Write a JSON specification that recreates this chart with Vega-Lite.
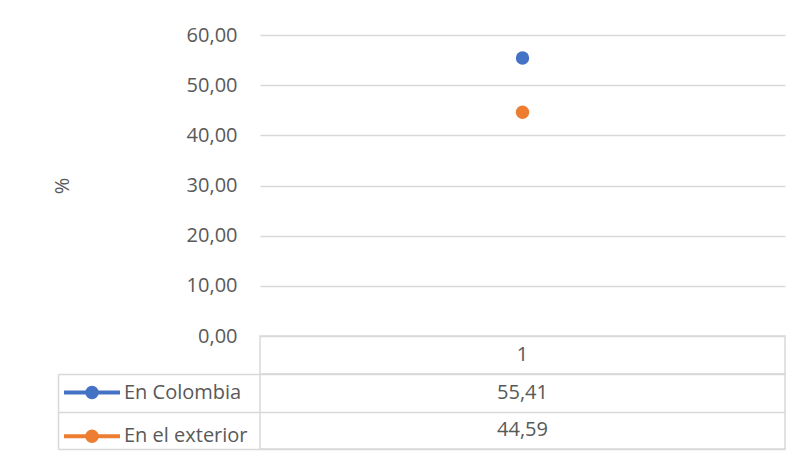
{
  "$schema": "https://vega.github.io/schema/vega-lite/v6.json",
  "background": "white",
  "autosize": {"type": "pad"},
  "padding": {"left": 52, "top": 25, "right": 22, "bottom": 12},
  "datasets": {
    "series": [
      {"serie": "En Colombia", "valor": 55.41},
      {"serie": "En el exterior", "valor": 44.59}
    ],
    "header": [{"categoria": "1"}]
  },
  "vconcat": [
    {
      "width": 525,
      "height": 301,
      "view": {"stroke": null},
      "data": {"name": "series"},
      "mark": {"type": "point", "filled": true, "opacity": 1, "size": 180},
      "encoding": {
        "y": {
          "field": "valor",
          "type": "quantitative",
          "scale": {"domain": [0, 60], "nice": false, "zero": true},
          "axis": {
            "values": [0, 10, 20, 30, 40, 50, 60],
            "format": ".2f",
            "title": "%",
            "titleFontSize": 20,
            "titleFontWeight": "normal",
            "titleColor": "#595959",
            "titleFont": "Open Sans",
            "titlePadding": 114,
            "labelFont": "Open Sans",
            "labelFontSize": 20,
            "labelColor": "#595959",
            "labelPadding": 23,
            "ticks": false,
            "tickSize": 0,
            "domain": false,
            "grid": true,
            "gridColor": "#d9d9d9",
            "gridWidth": 1.5
          }
        },
        "color": {
          "field": "serie",
          "type": "nominal",
          "scale": {"domain": ["En Colombia", "En el exterior"], "range": ["#4472c4", "#ed7d31"]},
          "legend": {
            "orient": "none",
            "legendX": -178,
            "legendY": 347.5,
            "title": null,
            "padding": 0,
            "symbolType": "M-4,0L4,0M0.68,0A0.68,0.68,0,1,1,-0.68,0A0.68,0.68,0,1,1,0.68,0Z",
            "symbolSize": 196,
            "symbolStrokeWidth": 4,
            "symbolOpacity": 1,
            "labelFont": "Open Sans",
            "labelFontSize": 20,
            "labelColor": "#595959",
            "labelOffset": 22,
            "rowPadding": 17.7,
            "encode": {
              "symbols": {
                "update": {
                  "stroke": {"scale": "color", "field": "value"},
                  "fill": {"scale": "color", "field": "value"},
                  "strokeWidth": {"value": 4},
                  "size": {"value": 196},
                  "opacity": {"value": 1}
                }
              }
            }
          }
        }
      }
    },
    {
      "width": 525,
      "height": 38,
      "view": {"stroke": "#d9d9d9", "strokeWidth": 1.5},
      "data": {"name": "header"},
      "mark": {"type": "text", "font": "Open Sans", "fontSize": 20, "color": "#595959", "baseline": "middle"},
      "encoding": {"text": {"field": "categoria", "type": "nominal"}}
    },
    {
      "width": 525,
      "height": 75,
      "view": {"stroke": "#d9d9d9", "strokeWidth": 1.5},
      "data": {"name": "series"},
      "layer": [
        {
          "mark": {"type": "rect", "fillOpacity": 0, "strokeOpacity": 0},
          "encoding": {
            "y": {
              "field": "serie",
              "type": "nominal",
              "sort": ["En Colombia", "En el exterior"],
              "scale": {"paddingInner": 0, "paddingOuter": 0},
              "axis": {
                "orient": "left",
                "title": null,
                "labels": false,
                "domain": false,
                "ticks": true,
                "tickSize": 202,
                "tickColor": "#d9d9d9",
                "tickWidth": 1.5,
                "tickBand": "extent",
                "grid": true,
                "gridColor": "#d9d9d9",
                "gridWidth": 1.5
              }
            }
          }
        },
        {
          "mark": {"type": "text", "font": "Open Sans", "fontSize": 20, "color": "#595959", "baseline": "middle"},
          "encoding": {
            "y": {
              "field": "serie",
              "type": "nominal",
              "sort": ["En Colombia", "En el exterior"],
              "scale": {"paddingInner": 0, "paddingOuter": 0},
              "axis": {
                "orient": "left",
                "title": null,
                "labels": false,
                "ticks": false,
                "grid": false,
                "domain": true,
                "domainColor": "#d9d9d9",
                "domainWidth": 1.5,
                "offset": 202
              }
            },
            "text": {"field": "valor", "type": "quantitative", "format": ".2f"}
          }
        }
      ],
      "resolve": {"scale": {"y": "independent"}, "axis": {"y": "independent"}}
    }
  ],
  "spacing": 0,
  "bounds": "flush",
  "config": {
    "view": {"stroke": null},
    "locale": {"number": {"decimal": ",", "thousands": ".", "grouping": [3], "currency": ["", " €"]}},
    "font": "Open Sans"
  }
}
